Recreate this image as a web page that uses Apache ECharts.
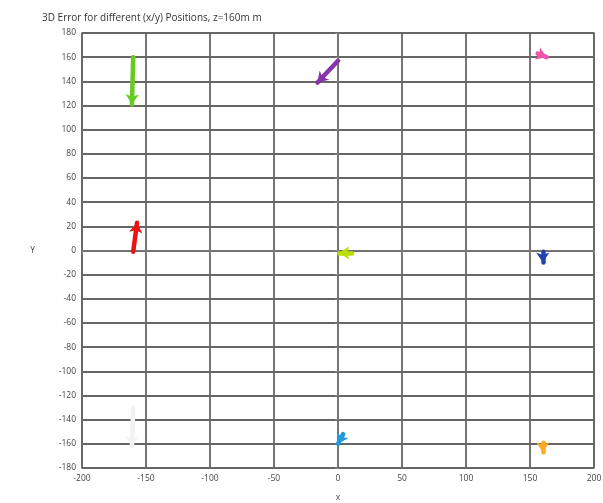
<!DOCTYPE html>
<html><head><meta charset="utf-8">
<script src="https://cdn.jsdelivr.net/npm/echarts@6/dist/echarts.min.js"></script>
<style>html,body{margin:0;padding:0;background:#fff}#c{width:603px;height:503px}</style>
</head><body><div id="c"></div>
<script>
const title = "3D Error for different (x/y) Positions, z=160m m";
const xTicks = [-200,-150,-100,-50,0,50,100,150,200];
const yTicks = [-180,-160,-140,-120,-100,-80,-60,-40,-20,0,20,40,60,80,100,120,140,160,180];
// error vectors: start (nominal) and end (measured)
const startX = [-160, 0, 156, -160, 11, 160, -160, 4, 160];
const startY = [160, 157, 163, -1, -2, -1, -130, -152, -159];
const endX   = [-161, -16, 163, -157, 1, 160, -161, 0, 160];
const endY   = [121, 139, 160, 23, -2, -10, -162, -160, -167];
const colors = ["#66cc22", "#8833aa", "#ee55aa", "#ee1111", "#bbdd00", "#2244aa", "#f2f2f2", "#2299dd", "#ffaa22"];

const series = startX.map((sx, i) => ({
  type: 'lines', coordinateSystem: 'cartesian2d',
  symbol: ['none', 'arrow'], symbolSize: 10,
  lineStyle: {color: colors[i], width: 4.5, opacity: 1, cap: 'round'},
  itemStyle: {color: colors[i]},
  data: [{coords: [[sx, startY[i]], [endX[i], endY[i]]]}],
  silent: true
}));

const chart = echarts.init(document.getElementById('c'));
const lbl = {color: '#444', fontSize: 8.5, fontFamily: 'Open Sans'};
chart.setOption({
  animation: false,
  title: {text: title, left: 37, top: 8, textStyle: {fontSize: 10, fontWeight: 'normal', color: '#333', fontFamily: 'Open Sans'}},
  grid: {left: 82, right: 9, top: 33, bottom: 35, show: true, borderColor: '#777', borderWidth: 1.6, outerBoundsMode: 'none', containLabel: false},
  xAxis: {type: 'value', min: -200, max: 200, interval: 50, name: 'x', nameLocation: 'middle', nameGap: 25,
    nameTextStyle: lbl,
    axisLine: {show: true, lineStyle: {color: '#777', width: 1.6}},
    axisTick: {show: true, length: 3, lineStyle: {color: '#888'}},
    axisLabel: Object.assign({margin: 6}, lbl),
    splitLine: {show: true, lineStyle: {color: '#666', width: 1.8}}},
  yAxis: {type: 'value', min: -180, max: 180, interval: 20, name: 'Y', nameLocation: 'middle', nameGap: 47, nameRotate: 0,
    nameTextStyle: lbl,
    axisLine: {show: true, lineStyle: {color: '#777', width: 1.6}},
    axisTick: {show: true, length: 3, lineStyle: {color: '#888'}},
    axisLabel: Object.assign({margin: 6}, lbl),
    splitLine: {show: true, lineStyle: {color: '#666', width: 1.8}}},
  series: series
});
</script></body></html>
